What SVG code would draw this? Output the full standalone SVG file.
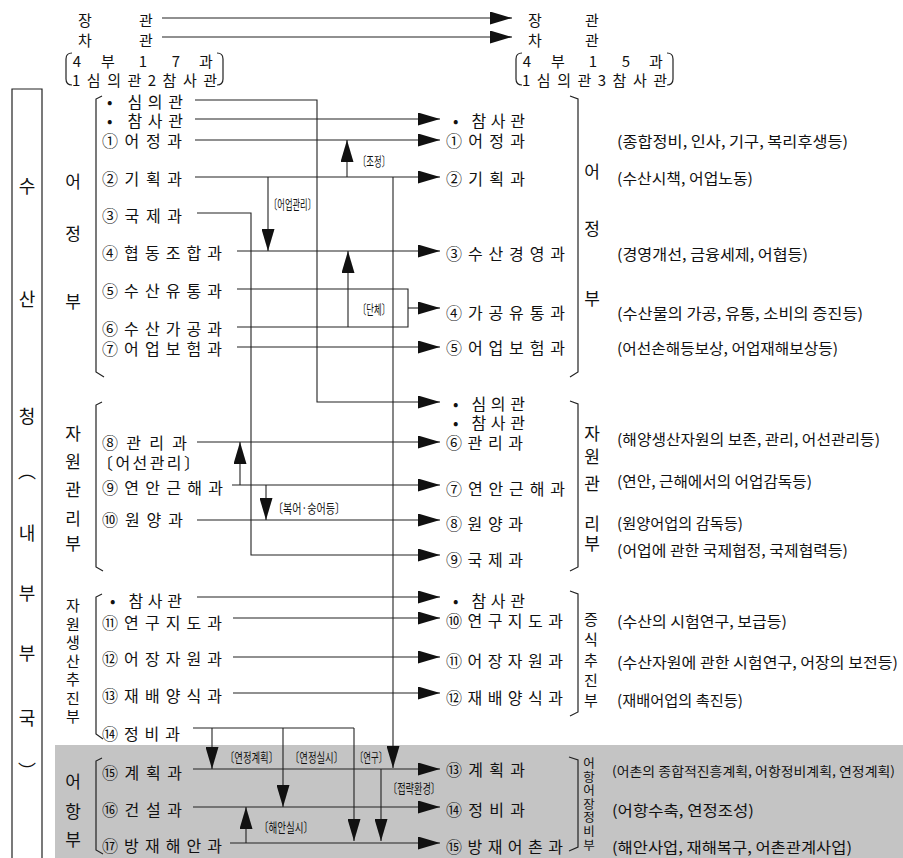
<svg xmlns="http://www.w3.org/2000/svg" width="903" height="858" viewBox="0 0 903 858">
<style>
text{font-family:'Noto Sans CJK KR','Noto Sans',sans-serif;fill:#111;dominant-baseline:central}
.it{font-size:16px}
.ds{font-size:15px}
.sm{font-size:13px}
.vl{font-size:17px;text-anchor:middle}
.vs{font-size:14px;text-anchor:middle}
.vv{writing-mode:vertical-rl;text-orientation:upright}
.bx{font-size:18px;text-anchor:middle}
.tp{font-size:15px;text-anchor:middle}
.tq{font-size:15px;text-anchor:middle}
.ln{fill:none;stroke:#222;stroke-width:1.1}
.ar{fill:none;stroke:#222;stroke-width:1.1;marker-end:url(#ah)}
.br{fill:none;stroke:#222;stroke-width:1.2}
</style>
<defs>
<marker id="ah" markerUnits="userSpaceOnUse" markerWidth="22" markerHeight="13" refX="22" refY="6.5" orient="auto"><path d="M0,0 L22,6.5 L0,13 z" fill="#111"/></marker>
</defs>
<rect width="903" height="858" fill="#fff"/>
<rect id="shade" x="55" y="745" width="848" height="113" fill="#c4c4c4"/>

<g id="outer-box">
<path class="br" d="M12,858 V89 H42 V858"/>
<text class="bx" x="27" y="185">수</text>
<text class="bx" x="27" y="298">산</text>
<text class="bx" x="27" y="415">청</text>
<text class="bx" x="27" y="470">︵</text>
<text class="bx" x="27" y="532">내</text>
<text class="bx" x="27" y="592">부</text>
<text class="bx" x="27" y="652">부</text>
<text class="bx" x="27" y="717">국</text>
<text class="bx" x="27" y="770">︶</text>
</g>

<g id="top-left">
<text class="tp" x="85" y="19">장</text><text class="tp" x="146" y="19">관</text>
<text class="tp" x="85" y="39">차</text><text class="tp" x="146" y="39">관</text>
<path class="br" d="M72,53 Q66,53 66,59 V79 Q66,85 72,85 M217,53 Q223,53 223,59 V79 Q223,85 217,85"/>
<text class="tq" x="77" y="60">4</text><text class="tq" x="108" y="60">부</text><text class="tq" x="143" y="60">1</text><text class="tq" x="176" y="60">7</text><text class="tq" x="206" y="60">과</text>
<text class="tq" style="text-anchor:start" x="72" y="79" textLength="145" lengthAdjust="spacing">1심의관2참사관</text>
</g>
<g id="top-right">
<text class="tp" x="535" y="19">장</text><text class="tp" x="592" y="19">관</text>
<text class="tp" x="535" y="39">차</text><text class="tp" x="592" y="39">관</text>
<path class="br" d="M522,53 Q516,53 516,59 V79 Q516,85 522,85 M667,53 Q673,53 673,59 V79 Q673,85 667,85"/>
<text class="tq" x="527" y="60">4</text><text class="tq" x="558" y="60">부</text><text class="tq" x="593" y="60">1</text><text class="tq" x="626" y="60">5</text><text class="tq" x="656" y="60">과</text>
<text class="tq" style="text-anchor:start" x="522" y="79" textLength="145" lengthAdjust="spacing">1심의관3참사관</text>
</g>

<g id="sec-eojeong-left">
<path class="br" d="M102,96 L96,99 V372 L104,377"/>
<text class="vl" x="73" y="180">어</text><text class="vl" x="73" y="232">정</text><text class="vl" x="73" y="300">부</text>
</g>
<g id="sec-jawon-left">
<path class="br" d="M102,402 L96,405 V567 L103,571"/>
<text class="vl" x="73" y="432">자</text><text class="vl" x="73" y="460">원</text><text class="vl" x="73" y="488">관</text><text class="vl" x="73" y="517">리</text><text class="vl" x="73" y="542">부</text>
</g>
<g id="sec-saengsan-left">
<path class="br" d="M102,594 L96,597 V734 L103,739"/>
<text class="vv" style="font-size:15px" x="73" y="598" textLength="126" lengthAdjust="spacing">자원생산추진부</text>
</g>
<g id="sec-eohang-left">
<path class="br" d="M102,758 L96,761 V850 L103,854"/>
<text class="vl" x="73" y="780">어</text><text class="vl" x="73" y="810">항</text><text class="vl" x="73" y="838">부</text>
</g>
<g id="sec-eojeong-right">
<path class="br" d="M570,96 L578,99 V372 L570,377"/>
<text class="vl" x="592" y="170">어</text><text class="vl" x="592" y="227">정</text><text class="vl" x="592" y="297">부</text>
</g>
<g id="sec-jawon-right">
<path class="br" d="M570,401 L578,404 V567 L570,571"/>
<text class="vl" x="592" y="432">자</text><text class="vl" x="592" y="455">원</text><text class="vl" x="592" y="482">관</text><text class="vl" x="592" y="522">리</text><text class="vl" x="592" y="542">부</text>
</g>
<g id="sec-jeungsik-right">
<path class="br" d="M570,591 L578,594 V712 L570,716"/>
<text class="vv" style="font-size:15px" x="591" y="612" textLength="96" lengthAdjust="spacing">증식추진부</text>
</g>
<g id="sec-eohangjeongbi-right">
<path class="br" d="M569,757 L578,760 V847 L569,851"/>
<text class="vv" style="font-size:12.5px" x="589" y="757" textLength="94" lengthAdjust="spacing">어항어장정비부</text>
</g>

<g id="L-simui"><text class="it" x="107" y="101" textLength="76" lengthAdjust="spacing">• 심의관</text></g>
<g id="L-chamsa1"><text class="it" x="107" y="120" textLength="76" lengthAdjust="spacing">• 참사관</text></g>
<g id="L-1"><text class="it" x="102" y="140" textLength="80" lengthAdjust="spacing">①어정과</text></g>
<g id="L-2"><text class="it" x="102" y="178" textLength="80" lengthAdjust="spacing">②기획과</text></g>
<g id="L-3"><text class="it" x="102" y="215" textLength="80" lengthAdjust="spacing">③국제과</text></g>
<g id="L-4"><text class="it" x="102" y="252" textLength="120" lengthAdjust="spacing">④협동조합과</text></g>
<g id="L-5"><text class="it" x="102" y="290" textLength="120" lengthAdjust="spacing">⑤수산유통과</text></g>
<g id="L-6"><text class="it" x="102" y="328" textLength="120" lengthAdjust="spacing">⑥수산가공과</text></g>
<g id="L-7"><text class="it" x="102" y="348" textLength="120" lengthAdjust="spacing">⑦어업보험과</text></g>
<g id="L-8"><text class="it" x="102" y="442" textLength="85" lengthAdjust="spacing">⑧관리과</text><text class="it" x="97" y="462" textLength="103" lengthAdjust="spacing">〔어선관리〕</text></g>
<g id="L-9"><text class="it" x="102" y="487" textLength="121" lengthAdjust="spacing">⑨연안근해과</text></g>
<g id="L-10"><text class="it" x="102" y="519" textLength="81" lengthAdjust="spacing">⑩원양과</text></g>
<g id="L-chamsa2"><text class="it" x="110" y="600" textLength="72" lengthAdjust="spacing">• 참사관</text></g>
<g id="L-11"><text class="it" x="102" y="622" textLength="120" lengthAdjust="spacing">⑪연구지도과</text></g>
<g id="L-12"><text class="it" x="102" y="658" textLength="120" lengthAdjust="spacing">⑫어장자원과</text></g>
<g id="L-13"><text class="it" x="102" y="695" textLength="120" lengthAdjust="spacing">⑬재배양식과</text></g>
<g id="L-14"><text class="it" x="102" y="733" textLength="78" lengthAdjust="spacing">⑭정비과</text></g>
<g id="L-15"><text class="it" x="102" y="772" textLength="80" lengthAdjust="spacing">⑮계획과</text></g>
<g id="L-16"><text class="it" x="102" y="809" textLength="80" lengthAdjust="spacing">⑯건설과</text></g>
<g id="L-17"><text class="it" x="102" y="845" textLength="120" lengthAdjust="spacing">⑰방재해안과</text></g>

<g id="R-chamsa1"><text class="it" x="453" y="120" textLength="72" lengthAdjust="spacing">• 참사관</text></g>
<g id="R-1"><text class="it" x="446" y="140" textLength="79" lengthAdjust="spacing">①어정과</text><text class="ds" x="617" y="140" textLength="231" lengthAdjust="spacingAndGlyphs">(종합정비, 인사, 기구, 복리후생등)</text></g>
<g id="R-2"><text class="it" x="446" y="178" textLength="79" lengthAdjust="spacing">②기획과</text><text class="ds" x="617" y="177" textLength="136" lengthAdjust="spacingAndGlyphs">(수산시책, 어업노동)</text></g>
<g id="R-3"><text class="it" x="446" y="253" textLength="119" lengthAdjust="spacing">③수산경영과</text><text class="ds" x="617" y="253" textLength="191" lengthAdjust="spacingAndGlyphs">(경영개선, 금융세제, 어협등)</text></g>
<g id="R-4"><text class="it" x="446" y="312" textLength="119" lengthAdjust="spacing">④가공유통과</text><text class="ds" x="617" y="312" textLength="246" lengthAdjust="spacingAndGlyphs">(수산물의 가공, 유통, 소비의 증진등)</text></g>
<g id="R-5"><text class="it" x="446" y="347" textLength="119" lengthAdjust="spacing">⑤어업보험과</text><text class="ds" x="617" y="347" textLength="221" lengthAdjust="spacingAndGlyphs">(어선손해등보상, 어업재해보상등)</text></g>
<g id="R-simui"><text class="it" x="453" y="403" textLength="72" lengthAdjust="spacing">• 심의관</text><text class="it" x="453" y="422" textLength="72" lengthAdjust="spacing">• 참사관</text></g>
<g id="R-6"><text class="it" x="446" y="442" textLength="77" lengthAdjust="spacing">⑥관리과</text><text class="ds" x="617" y="438" textLength="263" lengthAdjust="spacingAndGlyphs">(해양생산자원의 보존, 관리, 어선관리등)</text></g>
<g id="R-7"><text class="it" x="446" y="488" textLength="119" lengthAdjust="spacing">⑦연안근해과</text><text class="ds" x="617" y="480" textLength="195" lengthAdjust="spacingAndGlyphs">(연안, 근해에서의 어업감독등)</text></g>
<g id="R-8"><text class="it" x="446" y="523" textLength="77" lengthAdjust="spacing">⑧원양과</text><text class="ds" x="617" y="522" textLength="126" lengthAdjust="spacingAndGlyphs">(원양어업의 감독등)</text></g>
<g id="R-9"><text class="it" x="446" y="559" textLength="77" lengthAdjust="spacing">⑨국제과</text><text class="ds" x="617" y="549" textLength="231" lengthAdjust="spacingAndGlyphs">(어업에 관한 국제협정, 국제협력등)</text></g>
<g id="R-chamsa2"><text class="it" x="453" y="600" textLength="72" lengthAdjust="spacing">• 참사관</text></g>
<g id="R-10"><text class="it" x="446" y="620" textLength="117" lengthAdjust="spacing">⑩연구지도과</text><text class="ds" x="617" y="620" textLength="170" lengthAdjust="spacingAndGlyphs">(수산의 시험연구, 보급등)</text></g>
<g id="R-11"><text class="it" x="446" y="660" textLength="117" lengthAdjust="spacing">⑪어장자원과</text><text class="ds" x="617" y="661" textLength="281" lengthAdjust="spacingAndGlyphs">(수산자원에 관한 시험연구, 어장의 보전등)</text></g>
<g id="R-12"><text class="it" x="446" y="697" textLength="117" lengthAdjust="spacing">⑫재배양식과</text><text class="ds" x="617" y="699" textLength="126" lengthAdjust="spacingAndGlyphs">(재배어업의 촉진등)</text></g>
<g id="R-13"><text class="it" x="446" y="769" textLength="79" lengthAdjust="spacing">⑬계획과</text><text class="ds" style="font-size:13px" x="612" y="770" textLength="283" lengthAdjust="spacingAndGlyphs">(어촌의 종합적진흥계획, 어항정비계획, 연정계획)</text></g>
<g id="R-14"><text class="it" x="446" y="809" textLength="79" lengthAdjust="spacing">⑭정비과</text><text class="ds" x="612" y="809" textLength="142" lengthAdjust="spacingAndGlyphs">(어항수축, 연정조성)</text></g>
<g id="R-15"><text class="it" x="446" y="846" textLength="117" lengthAdjust="spacing">⑮방재어촌과</text><text class="ds" x="612" y="846" textLength="240" lengthAdjust="spacingAndGlyphs">(해안사업, 재해복구, 어촌관계사업)</text></g>

<g id="connectors">
<path class="ar" d="M162,18 H512"/>
<path class="ar" d="M162,37 H512"/>
<path class="ar" d="M195,100 H317 V402 H440"/>
<path class="ar" d="M195,119 H440"/>
<path class="ar" d="M195,140 H440"/>
<path class="ar" d="M195,177 H440"/>
<path class="ar" d="M347,177 V140"/>
<path class="ar" d="M268,177 V251"/>
<path class="ar" d="M393,177 V768"/>
<path class="ar" d="M197,213 H251 V555 H440"/>
<path class="ar" d="M237,251 H440"/>
<path class="ar" d="M348,327 V251"/>
<path class="ln" d="M237,289 H408 V327 H237"/>
<path class="ar" d="M408,308 H440"/>
<path class="ar" d="M237,347 H440"/>
<path class="ar" d="M197,442 H440"/>
<path class="ar" d="M232,485 H440"/>
<path class="ar" d="M240,485 V442"/>
<path class="ar" d="M266,485 V520"/>
<path class="ar" d="M197,520 H440"/>
<path class="ar" d="M197,597 H440"/>
<path class="ar" d="M233,618 H440"/>
<path class="ar" d="M233,657 H440"/>
<path class="ar" d="M233,693 H440"/>
<path class="ln" d="M193,728 H354"/>
<path class="ar" d="M212,728 V769"/>
<path class="ar" d="M283,728 V807"/>
<path class="ar" d="M354,728 V841"/>
<path class="ar" d="M193,769 H440"/>
<path class="ar" d="M193,807 H440"/>
<path class="ar" d="M230,843 H440"/>
<path class="ar" d="M381,769 V841"/>
<path class="ar" d="M246,843 V807"/>
<text class="sm" x="358" y="160" textLength="32" lengthAdjust="spacingAndGlyphs">〔조정〕</text>
<text class="sm" x="269" y="203" textLength="47" lengthAdjust="spacingAndGlyphs">〔어업관리〕</text>
<text class="sm" x="358" y="308" textLength="32" lengthAdjust="spacingAndGlyphs">〔단체〕</text>
<text class="sm" x="273" y="507" textLength="72" lengthAdjust="spacingAndGlyphs">〔복어·숭어등〕</text>
<text class="sm" x="225" y="756" textLength="53" lengthAdjust="spacingAndGlyphs">〔연정계획〕</text>
<text class="sm" x="290" y="756" textLength="53" lengthAdjust="spacingAndGlyphs">〔연정실시〕</text>
<text class="sm" x="355" y="756" textLength="32" lengthAdjust="spacingAndGlyphs">〔연구〕</text>
<text class="sm" x="388" y="787" textLength="52" lengthAdjust="spacingAndGlyphs">〔접략환경〕</text>
<text class="sm" x="259" y="826" textLength="54" lengthAdjust="spacingAndGlyphs">〔해안실시〕</text>
</g>
</svg>
